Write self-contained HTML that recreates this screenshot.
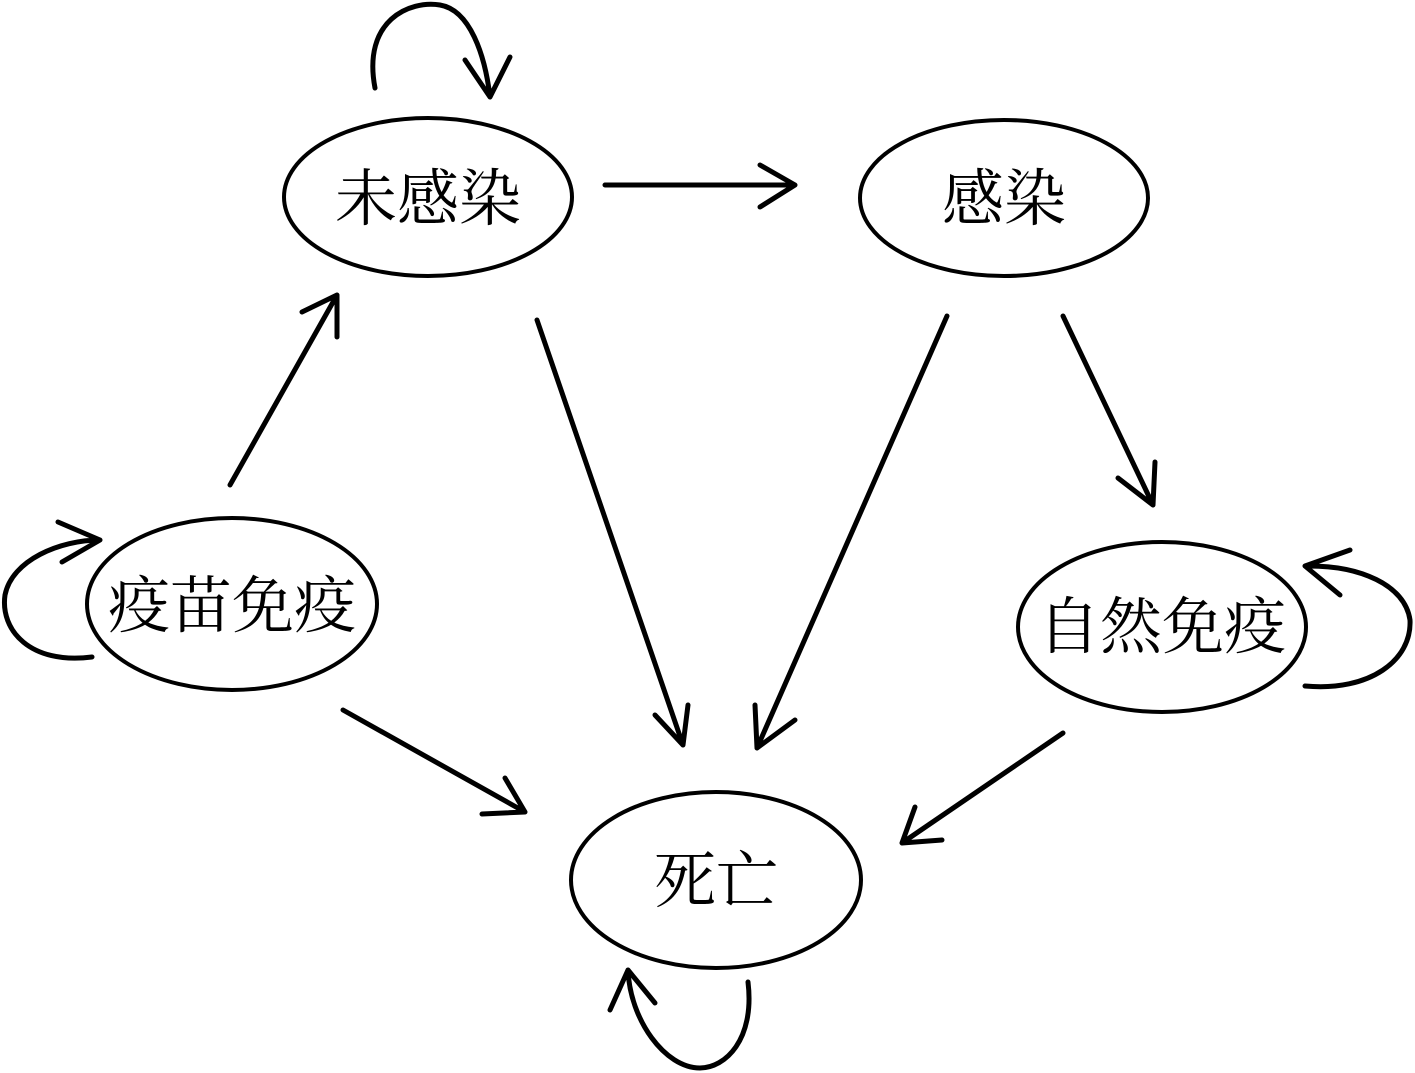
<!DOCTYPE html>
<html><head><meta charset="utf-8"><style>
html,body{margin:0;padding:0;background:#fff;}
svg{display:block}
text{font-family:"Liberation Serif","Noto Serif CJK SC",serif;font-size:62px;fill:#000}
</style></head><body>
<svg width="1415" height="1073" viewBox="0 0 1415 1073" xmlns="http://www.w3.org/2000/svg">
<g fill="none" stroke="#000" stroke-width="4">
<ellipse cx="428" cy="197" rx="144" ry="79"/>
<ellipse cx="1004" cy="198" rx="144" ry="78"/>
<ellipse cx="232" cy="604" rx="145" ry="86"/>
<ellipse cx="1162" cy="627" rx="144" ry="85"/>
<ellipse cx="716" cy="880" rx="145" ry="88"/>
</g>
<g fill="none" stroke="#000" stroke-width="5" stroke-linecap="round" stroke-linejoin="round">
<path d="M605,185 L795,185 M760,165 L795,185 L760,207"/>
<path d="M537,320 L683,745 M655,715 L683,745 L688,705"/>
<path d="M947,316 L757,748 M755,705 L757,748 L795,720"/>
<path d="M1063,316 L1153,505 M1118,478 L1153,505 L1155,462"/>
<path d="M230,485 L337,295 M302,312 L337,295 L337,337"/>
<path d="M343,710 L525,812 M482,814 L525,812 L505,778"/>
<path d="M1063,733 L902,843 M915,807 L902,843 L942,840"/>
<path d="M375,88 C362,20 410,0 440,5 C470,10 485,55 490,97 M465,60 L490,97 L510,57"/>
<path d="M92,657 C30,665 0,630 5,595 C12,560 60,540 100,540 M58,522 L100,540 L62,562"/>
<path d="M1305,686 C1370,692 1412,660 1410,620 C1405,585 1360,565 1305,566 M1350,550 L1305,566 L1340,595"/>
<path d="M748,982 C755,1040 725,1068 700,1068 C665,1068 630,1020 628,970 M610,1010 L628,970 L655,1003"/>
</g>
<text x="428" y="220" text-anchor="middle">未感染</text>
<text x="1004" y="220" text-anchor="middle">感染</text>
<text x="232" y="627" text-anchor="middle">疫苗免疫</text>
<text x="1162" y="648" text-anchor="middle">自然免疫</text>
<text x="716" y="902" text-anchor="middle">死亡</text>
</svg>
</body></html>
